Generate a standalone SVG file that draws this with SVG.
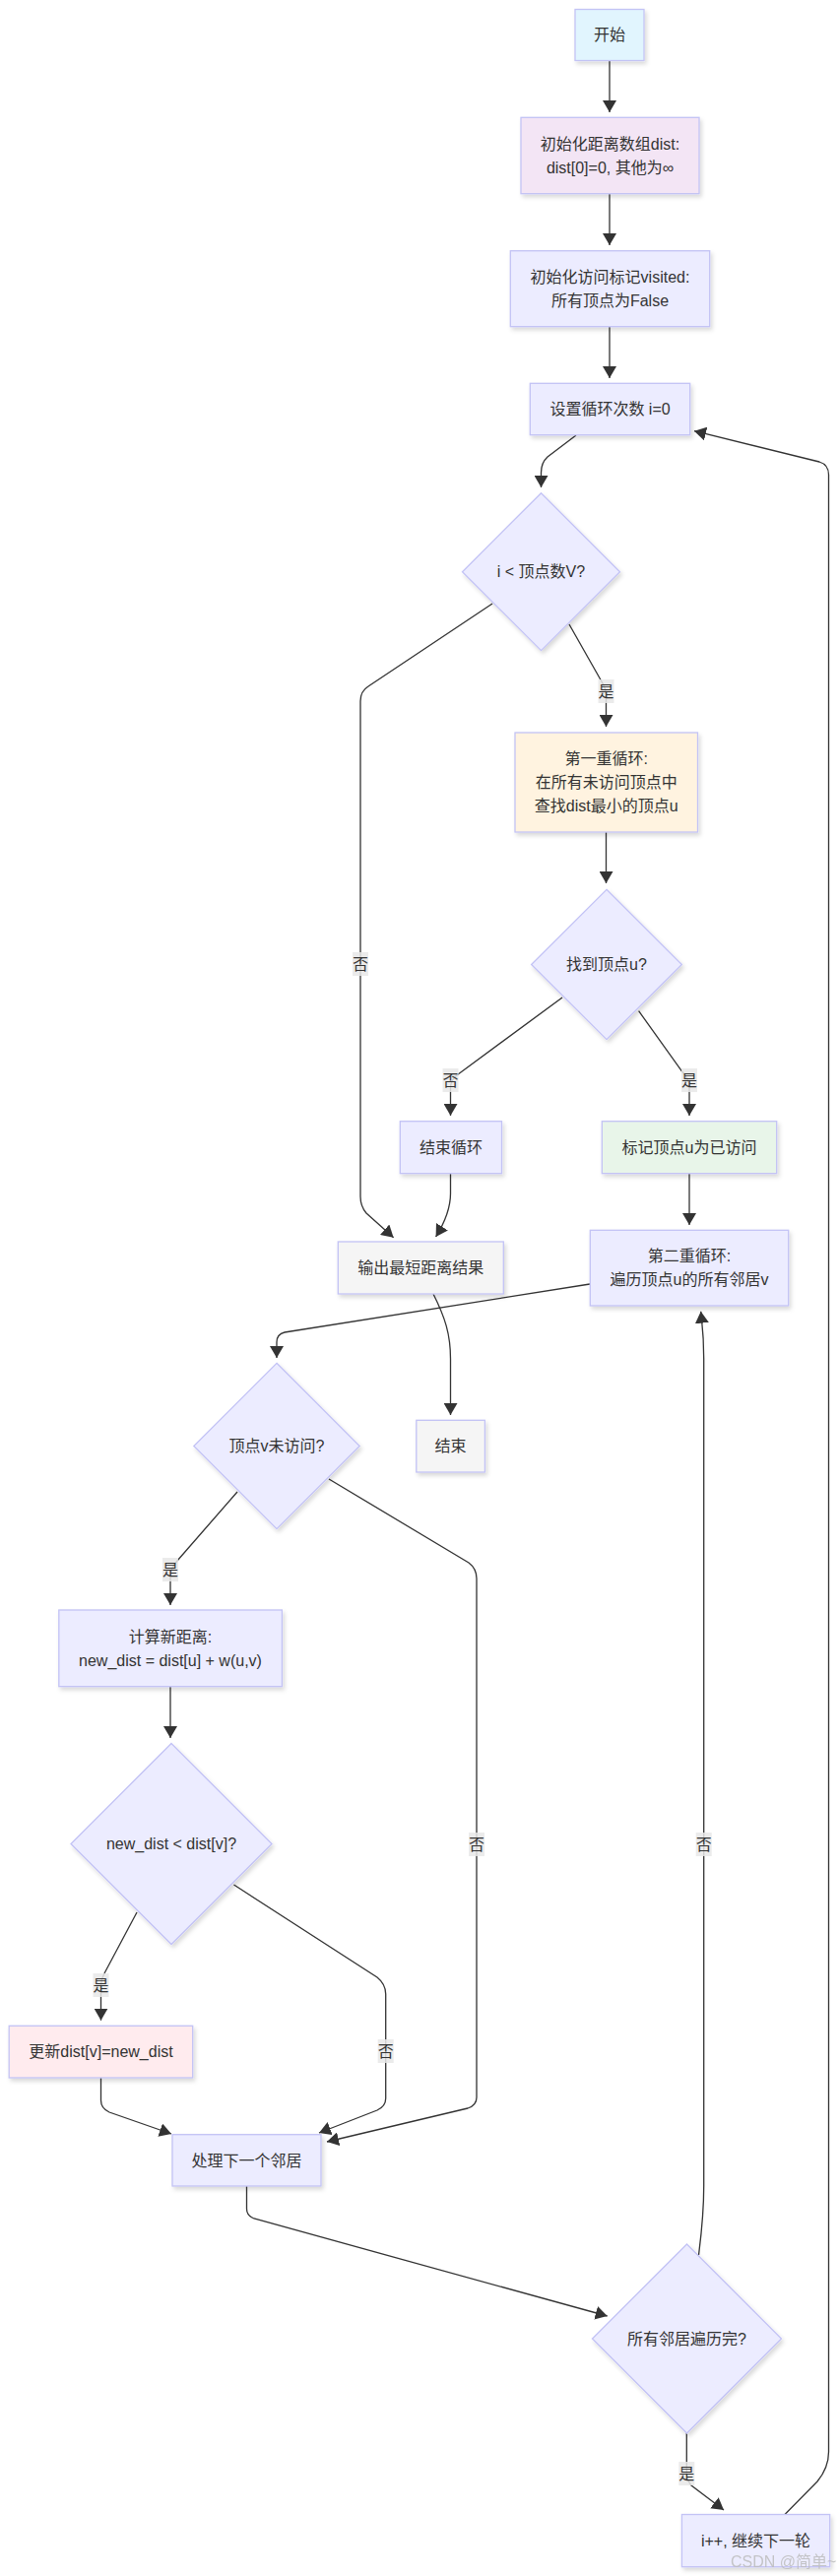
<svg xmlns="http://www.w3.org/2000/svg" width="852" height="2616" viewBox="0 0 852 2616">
<style>
.node rect,.node polygon{fill:#ececff;stroke:#c3c3f5;stroke-width:1.3;filter:url(#sh)}
.node text,.lbl text{font-family:"Liberation Sans","Noto Sans CJK SC",sans-serif;font-size:16px;fill:#333;text-anchor:middle;dominant-baseline:central}
.edges path{fill:none;stroke:#333;stroke-width:1.3}
.arr{marker-end:url(#ah)}
.lbl rect{fill:#e8e8e8;opacity:0.85}
.wm{font-family:"Liberation Sans","Noto Sans CJK SC",sans-serif;font-size:16px;fill:#bdbdbd;opacity:0.85}
</style>
<defs>
<filter id="sh" x="-10%" y="-10%" width="130%" height="140%"><feDropShadow dx="2" dy="3" stdDeviation="2" flood-color="#000" flood-opacity="0.15"/></filter>
<marker id="ah" viewBox="0 0 12 14" markerWidth="12" markerHeight="14" refX="12" refY="7" orient="auto" markerUnits="userSpaceOnUse"><path d="M0,0 L12,7 L0,14 z" fill="#333"/></marker>
</defs>
<g id="connectors" class="edges">
<path class="arr" d="M619,62 L619,114"/>
<path class="arr" d="M619,197 L619,249"/>
<path class="arr" d="M619,332 L619,384"/>
<path class="arr" d="M585,442 L556,464 Q549.5,470 549.5,480 L549.5,495"/>
<path class="arr" d="M578,634 L612,694 Q615.5,700 615.5,706 L615.5,738"/>
<path class="arr" d="M500,613 L374,697 Q366,702 366,712 L366,1215 Q366,1225 372,1232 L399.6,1256.7"/>
<path class="arr" d="M615.5,845 L615.5,897"/>
<path class="arr" d="M571,1013 L465.5,1090.7 Q457.5,1096 457.5,1105 L457.5,1133"/>
<path class="arr" d="M648.6,1026.7 L691.5,1086.7 Q700,1095 700,1105 L700,1133"/>
<path class="arr" d="M457.5,1192 L457.5,1212 Q457.5,1232 442.6,1256"/>
<path class="arr" d="M700,1192 L700,1244"/>
<path class="arr" d="M599,1304 L289,1353 Q281,1355 281,1363 L281,1379"/>
<path class="arr" d="M440,1314 C452,1338 457.5,1355 457.5,1380 L457.5,1437"/>
<path class="arr" d="M241,1515 L180,1585 Q173,1593 173,1600 L173,1630"/>
<path class="arr" d="M334,1502 L476,1587 Q484,1593 484,1603 L484,2130 Q484,2138 475,2141 L332,2175"/>
<path class="arr" d="M173,1713 L173,1765"/>
<path class="arr" d="M139,1942 L106,2004 Q102.5,2010 102.5,2016 L102.5,2051.7"/>
<path class="arr" d="M237.5,1914 L383,2008 Q391.7,2015 391.7,2025 L391.7,2131 Q391.7,2139 383,2143 L324,2166"/>
<path class="arr" d="M102.5,2110 L102.5,2133 Q102.5,2141 111,2145 L174,2167"/>
<path class="arr" d="M250.5,2220 L250.5,2243 Q250.5,2250 258,2253 L616.7,2352"/>
<path class="arr" d="M709.5,2290 C712,2270 714.7,2250 714.7,2220 L714.7,1380 C714.7,1355 713,1345 711.7,1331.7"/>
<path class="arr" d="M697.3,2471 L697.3,2512 Q697.3,2518 702,2524 L735,2549"/>
<path class="arr" d="M797,2553.5 L830,2520 Q841.5,2506 841.5,2490 L841.5,482 Q841.5,472 832,469 L705,437.7"/>
<g class="lbl">
<rect x="607.5" y="690" width="16" height="24"/><text x="615.5" y="702">是</text>
<rect x="358" y="967" width="16" height="24"/><text x="366" y="979">否</text>
<rect x="449.5" y="1085" width="16" height="24"/><text x="457.5" y="1097">否</text>
<rect x="692" y="1085" width="16" height="24"/><text x="700" y="1097">是</text>
<rect x="165" y="1582" width="16" height="24"/><text x="173" y="1594">是</text>
<rect x="476" y="1861" width="16" height="24"/><text x="484" y="1873">否</text>
<rect x="94.5" y="2004" width="16" height="24"/><text x="102.5" y="2016">是</text>
<rect x="383.7" y="2071" width="16" height="24"/><text x="391.7" y="2083">否</text>
<rect x="706.7" y="1861" width="16" height="24"/><text x="714.7" y="1873">否</text>
<rect x="689.3" y="2500" width="16" height="24"/><text x="697.3" y="2512">是</text>
</g>
</g>
<g id="start" class="node"><rect x="584" y="9.5" width="70" height="52" style="fill:#e1f5fe"/><text x="619" y="35.5">开始</text></g>
<g id="initDist" class="node"><rect x="529" y="119.3" width="181" height="77.4" style="fill:#f3e5f5"/><text x="619.5" y="146">初始化距离数组dist:</text><text x="619.5" y="170">dist[0]=0, 其他为∞</text></g>
<g id="initVisited" class="node"><rect x="518.3" y="254.7" width="202.4" height="77" /><text x="619.5" y="281">初始化访问标记visited:</text><text x="619.5" y="305">所有顶点为False</text></g>
<g id="setI" class="node"><rect x="538.3" y="389.3" width="162.4" height="52.4"/><text x="619.5" y="415.5">设置循环次数 i=0</text></g>
<g id="checkI" class="node"><polygon points="549.5,500.7 629.5,580.7 549.5,660.7 469.5,580.7"/><text x="549.5" y="580.7">i &lt; 顶点数V?</text></g>
<g id="loop1" class="node"><rect x="523" y="744" width="185.5" height="101" style="fill:#fff3e0"/><text x="615.7" y="770">第一重循环:</text><text x="615.7" y="794">在所有未访问顶点中</text><text x="615.7" y="818">查找dist最小的顶点u</text></g>
<g id="foundU" class="node"><polygon points="616,903.3 692.4,979.5 616,1055.7 539.6,979.5"/><text x="616" y="979.5">找到顶点u?</text></g>
<g id="endLoop" class="node"><rect x="406.3" y="1138.7" width="103.2" height="53"/><text x="457.9" y="1165.2">结束循环</text></g>
<g id="markU" class="node"><rect x="611.3" y="1138.7" width="177.4" height="53" style="fill:#e8f5e9"/><text x="700" y="1165.2">标记顶点u为已访问</text></g>
<g id="loop2" class="node"><rect x="599.3" y="1249.3" width="201.4" height="76.7"/><text x="700" y="1275.7">第二重循环:</text><text x="700" y="1299.7">遍历顶点u的所有邻居v</text></g>
<g id="output" class="node"><rect x="343.3" y="1261" width="168" height="53" style="fill:#f5f5f5"/><text x="427.3" y="1287.5">输出最短距离结果</text></g>
<g id="end" class="node"><rect x="422.8" y="1442.3" width="69.6" height="52.7" style="fill:#f5f5f5"/><text x="457.6" y="1468.7">结束</text></g>
<g id="checkV" class="node"><polygon points="281,1384.3 365.2,1468.5 281,1552.7 196.8,1468.5"/><text x="281" y="1468.5">顶点v未访问?</text></g>
<g id="calc" class="node"><rect x="59.8" y="1635" width="226.6" height="77.7"/><text x="173" y="1662">计算新距离:</text><text x="173" y="1686">new_dist = dist[u] + w(u,v)</text></g>
<g id="cmp" class="node"><polygon points="174,1770.5 276,1872.5 174,1974.5 72,1872.5"/><text x="174" y="1872.5">new_dist &lt; dist[v]?</text></g>
<g id="update" class="node"><rect x="9.2" y="2057.3" width="186.5" height="52.7" style="fill:#ffebee"/><text x="102.5" y="2083.7">更新dist[v]=new_dist</text></g>
<g id="nextN" class="node"><rect x="175" y="2167.7" width="151" height="52.3"/><text x="250.5" y="2194">处理下一个邻居</text></g>
<g id="allDone" class="node"><polygon points="697.5,2279 793.5,2375 697.5,2471 601.5,2375"/><text x="697.5" y="2375">所有邻居遍历完?</text></g>
<g id="inc" class="node"><rect x="692.4" y="2553.5" width="150.3" height="53.2"/><text x="767.5" y="2580">i++, 继续下一轮</text></g>
<text class="wm" x="742" y="2607">CSDN @简单~</text>
</svg>
